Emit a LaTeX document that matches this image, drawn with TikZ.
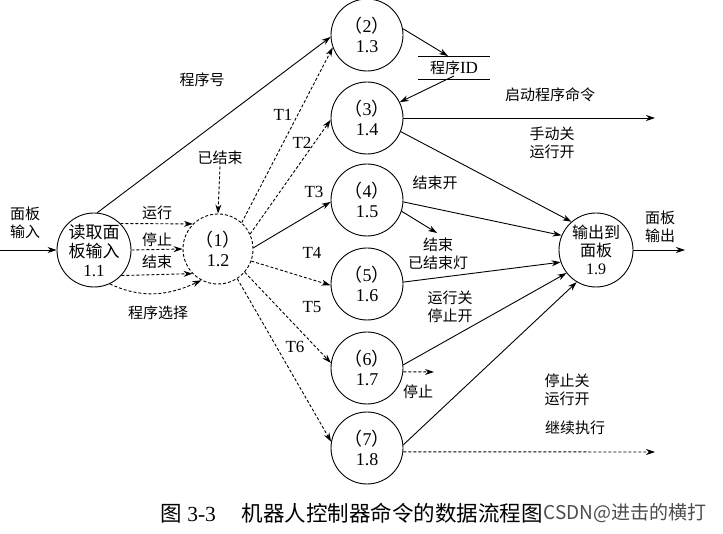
\documentclass[tikz,border=0pt]{standalone}
\usepackage{fontspec}
\setmainfont{Liberation Serif}
\newfontfamily\zh{Noto Sans CJK SC}
\usetikzlibrary{arrows.meta}
\newcommand\pnum[1]{{\zh （}#1{\zh ）}}

\begin{document}
\begin{tikzpicture}[x=1pt,y=-1pt,line width=0.9pt,
    >={Stealth[length=9pt,width=6pt]},
    proc/.style={circle,draw,minimum size=72pt,inner sep=0pt,align=center,
      font=\fontsize{18}{20}\selectfont},
    lbl/.style={align=center,inner sep=1pt,font=\zh\fontsize{15}{18}\selectfont},
    tlbl/.style={inner sep=1pt,font=\fontsize{17}{18}\selectfont},
    dflow/.style={->,densely dashed}]
  \useasboundingbox (0,0) rectangle (723,534);

  % processes
  \node[proc,minimum size=74pt,font=\fontsize{17}{19}\selectfont] (p11) at (94,250)
    {{\zh 读取面}\\{\zh 板输入}\\1.1};
  \node[proc,densely dashed,minimum size=70pt] (p12) at (218,249) {\pnum{1}\\1.2};
  \node[proc] (p13) at (367,35) {\pnum{2}\\1.3};
  \node[proc] (p14) at (367,118) {\pnum{3}\\1.4};
  \node[proc] (p15) at (367,200) {\pnum{4}\\1.5};
  \node[proc] (p16) at (367,284) {\pnum{5}\\1.6};
  \node[proc] (p17) at (367,368) {\pnum{6}\\1.7};
  \node[proc] (p18) at (367,448) {\pnum{7}\\1.8};
  \node[proc,minimum size=74pt,font=\fontsize{16}{18}\selectfont] (p19) at (596,250)
    {{\zh 输出到}\\{\zh 面板}\\1.9};

  % data store
  \node[lbl,minimum width=72pt,minimum height=23pt] (store) at (454,68) {程序\rmfamily\fontsize{17}{18}\selectfont ID};
  \draw (store.north west) -- (store.north east);
  \draw (store.south west) -- (store.south east);

  % free ends
  \coordinate (pin) at (0,250);
  \coordinate (pout) at (685,250);
  \coordinate (cmd) at (655,118);
  \coordinate (ledend) at (437,233);
  \coordinate (stopend) at (434,372);
  \coordinate (goend) at (655,452);

  % input side
  \draw[->] (pin) -- (p11);
  \draw[->] (p11.85) -- (p13.183);
  \draw[dflow] (p11.45) -- (p12.135);
  \draw[dflow] (p11.0) -- (p12.180);
  \draw[dflow] (p11.-43) -- (p12.224);
  \draw[dflow] (p11.-65) to[out=-25,in=205] (p12.242);
  \node[lbl] (done) at (220,158) {已结束};
  \draw[dflow] (done.south) -- (p12.north);

  % dispatch
  \draw[dflow] (p12.48) -- (p13.200);
  \draw[dflow] (p12.25) -- (p14.183);
  \draw[->] (p12.2) -- (p15.183);
  \draw[dflow] (p12.-20) -- (p16.182);
  \draw[dflow] (p12.-41) -- (p17.172);
  \draw[dflow] (p12.-57) -- (p18.170);

  % store and outputs
  \draw[->] (p13.10) -- ([xshift=-6pt]store.north);
  \draw[->] ([yshift=4pt]store.south) -- (p14);
  \draw[->] (p14) -- (cmd);
  \draw[->] (p14.-22) -- (p19.131);
  \draw[->] (p15.-3) -- (p19.157);
  \draw[->] (p15.-18) -- (ledend);
  \draw[->] (p16.3) -- (p19.199);
  \draw[->] (p17.5) -- (p19.218);
  \draw[dflow] (p17.-6) -- (stopend);
  \draw[->] (p18.5) -- (p19.239);
  \draw[dflow] (p18.-6) -- (goend);
  \draw[->] (p19) -- (pout);

  % labels
  \node[lbl] (lin) at (25,223) {面板\\输入};
  \node[lbl] (lnum) at (202,80) {程序号};
  \node[lbl] (lrun) at (157,213) {运行};
  \node[lbl] (lstop) at (157,240) {停止};
  \node[lbl] (lend) at (157,262) {结束};
  \node[lbl] (lsel) at (158,313) {程序选择};
  \node[tlbl] (t1) at (283,115) {T1};
  \node[tlbl] (t2) at (302,143) {T2};
  \node[tlbl] (t3) at (314,192) {T3};
  \node[tlbl] (t4) at (312,253) {T4};
  \node[tlbl] (t5) at (312,307) {T5};
  \node[tlbl] (t6) at (295,347) {T6};
  \node[lbl] (lcmd) at (550,95) {启动程序命令};
  \node[lbl] (lman) at (552,143) {手动关\\运行开};
  \node[lbl] (lendon) at (435,183) {结束开};
  \node[lbl] (lled) at (438,254) {结束\\已结束灯};
  \node[lbl] (lrunoff) at (450,307) {运行关\\停止开};
  \node[lbl] (lhalt) at (418,392) {停止};
  \node[lbl] (lstopoff) at (567,390) {停止关\\运行开};
  \node[lbl] (lgo) at (575,428) {继续执行};
  \node[lbl] (lout) at (660,227) {面板\\输出};

  % caption
  \node[anchor=west,inner sep=0pt,font=\fontsize{21.5}{24}\selectfont] (cap) at (160,513)
    {{\zh 图} 3-3\hspace{1.2em}{\zh 机器人控制器命令的数据流程图}};
  \node[anchor=west,inner sep=0pt,text=black!70,font=\zh\fontsize{19}{21}\selectfont]
    (mark) at (cap.east) {CSDN@进击的横打};
\end{tikzpicture}
\end{document}
